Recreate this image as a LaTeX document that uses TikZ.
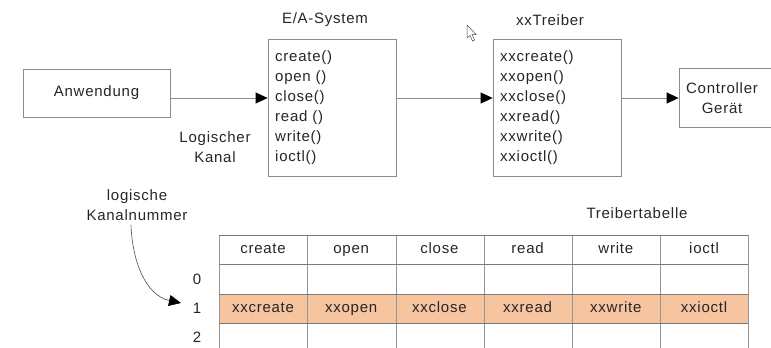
\documentclass[tikz,border=0pt]{standalone}
\usepackage{fontspec}
\setmainfont[LetterSpace=5]{Liberation Sans}
\usetikzlibrary{arrows.meta}
\definecolor{boxline}{HTML}{8C8C8C}
\definecolor{rowfill}{HTML}{F6C49E}
\definecolor{tabline}{HTML}{7A7A7A}
\tikzset{
  box/.style={draw=boxline, line width=0.8pt, inner sep=0pt},
  lbl/.style={font=\fontsize{15}{20}\selectfont, text=black!85, inner sep=0pt},
  conn/.style={draw=boxline, line width=0.9pt, -{Triangle[length=12pt,width=11pt,fill=black,color=black]}},
  cell/.style={lbl, minimum width=88pt, minimum height=29.5pt, anchor=center, text height=10.5pt, text depth=3pt},
}
\begin{document}
\begin{tikzpicture}[x=1pt,y=-1pt]
\useasboundingbox (0,0) rectangle (771,348);
\clip (0,0) rectangle (771,348);
% top boxes
\node[box, lbl, minimum width=147pt, minimum height=48pt] (anw) at (96.5,93) {Anwendung};
\node[box, minimum width=128pt, minimum height=137pt] (ea) at (332,107.5) {};
\node[lbl, align=left, anchor=west] (eatext) at (275,108) {create()\\open ()\\close()\\read ()\\write()\\ioctl()};
\node[box, minimum width=128pt, minimum height=137pt] (tr) at (557,107.5) {};
\node[lbl, align=left, anchor=west] (trtext) at (500,108) {xxcreate()\\xxopen()\\xxclose()\\xxread()\\xxwrite()\\xxioctl()};
\node[box, minimum width=93pt, minimum height=59pt] (ctrl) at (725.5,97.5) {};
\node[lbl, align=center] (ctrltext) at (722,98) {Controller\\Gerät};
\node[lbl] (eatitle) at (325,20) {E/A-System};
\node[lbl] (trtitle) at (550,20) {xxTreiber};
\node[lbl, align=center] (lk) at (215,147.5) {Logischer\\Kanal};
% connectors
\draw[conn] (anw.east |- 0,98) -- (ea.west |- 0,98);
\draw[conn] (ea.east |- 0,98) -- (tr.west |- 0,98);
\draw[conn] (tr.east |- 0,98) -- (ctrl.west |- 0,98);
% mouse cursor
\draw[black!70, line width=0.5pt, fill=white] (467,25) -- (467,38) -- (470,35.5) -- (472.5,41) -- (474.5,40) -- (472,34.5) -- (476,34.5) -- cycle;
% table
\fill[rowfill] (219,294) rectangle (748,323);
\foreach \i/\h/\v [count=\c] in {0/create/xxcreate,1/open/xxopen,2/close/xxclose,3/read/xxread,4/write/xxwrite,5/ioctl/xxioctl}{
  \node[cell] (h\c) at ({263+88.2*\i},249.5) {\h};
  \node[cell] (v\c) at ({263+88.2*\i},308.5) {\v};
}
\foreach \x in {219,307,396,484,572,660,748}{
  \draw[tabline!80, line width=0.8pt] (\x,235) -- (\x,360);
}
\foreach \y in {235,264.5,294,323}{
  \draw[tabline, line width=0.8pt] (219,\y) -- (748,\y);
}
\node[lbl] (r0) at (197,279) {0};
\node[lbl] (r1) at (197,308) {1};
\node[lbl] (r2) at (197,337) {2};
\node[lbl] (tt) at (637,213) {Treibertabelle};
\node[lbl, align=center] (kn) at (137,205) {logische\\Kanalnummer};
\coordinate (tip) at (181,303);
\draw[black!70, line width=0.6pt, -{Triangle[length=12pt,width=11pt,fill=black,color=black]}] (131,225) to[out=-88,in=168] (tip);
\end{tikzpicture}
\end{document}
